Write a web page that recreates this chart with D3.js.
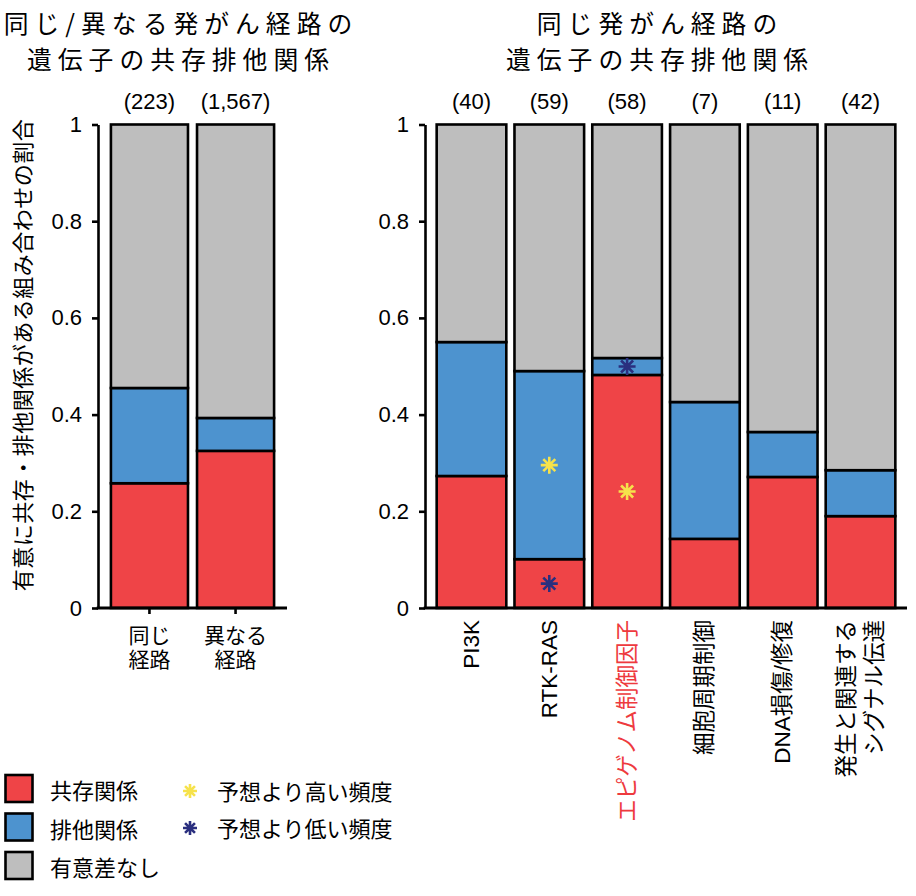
<!DOCTYPE html>
<html><head><meta charset="utf-8">
<script src="https://cdn.jsdelivr.net/npm/d3@7"></script>
<style>
html,body{margin:0;padding:0;background:#fff;}
svg text{font-family:"Liberation Sans","Noto Sans CJK JP",Arial,sans-serif;fill:#000;}
</style></head>
<body><svg id="chart" width="916" height="896"></svg>
<script>
// ---- data ----
const leftCats = [["同じ","経路"],["異なる","経路"]];
const leftCounts = ["(223)","(1,567)"];
const leftCo = [0.258, 0.325];
const leftEx = [0.197, 0.068];

const rightCats = [["PI3K"],["RTK-RAS"],["エピゲノム制御因子"],["細胞周期制御"],["DNA損傷/修復"],["発生と関連する","シグナル伝達"]];
const rightCounts = ["(40)","(59)","(58)","(7)","(11)","(42)"];
const rightCo = [0.273, 0.101, 0.482, 0.143, 0.271, 0.190];
const rightEx = [0.277, 0.389, 0.035, 0.283, 0.093, 0.095];
const rightHighlight = [false,false,true,false,false,false];

// stars: category index, segment ("co"/"ex"), type ("high"/"low")
const starCat = [1, 1, 2, 2];
const starSeg = ["ex", "co", "co", "ex"];
const starType = ["high", "low", "high", "low"];

const yTicks = [0, 0.2, 0.4, 0.6, 0.8, 1];
const legendBoxes = ["共存関係","排他関係","有意差なし"];
const legendStars = ["予想より高い頻度","予想より低い頻度"];

const colors = {co:"#EF4447", ex:"#4D93CF", ns:"#BEBEBE"};
const starColors = {high:"#F6E24B", low:"#2A2F7F"};

const svg = d3.select("#chart");
const y = d3.scaleLinear().domain([0,1]).range([608,124.5]);

function starPath(g, cx, cy, r, color){
  const p = d3.path();
  for (let k=0;k<4;k++){
    const a = k*Math.PI/4;
    p.moveTo(cx - r*Math.cos(a), cy - r*Math.sin(a));
    p.lineTo(cx + r*Math.cos(a), cy + r*Math.sin(a));
  }
  g.append("path").attr("d", p.toString()).attr("stroke", color)
    .attr("stroke-width", 2.6).attr("fill","none").attr("stroke-linecap","butt");
}

function panel(opts){
  const {cats, counts, co, ex, x0, x1, ticksOnX, labelMode, highlight} = opts;
  const g = svg.append("g");
  const x = d3.scaleBand().domain(d3.range(cats.length)).range([x0,x1])
    .paddingInner(0.105).paddingOuter(0.15);
  const data = cats.map((c,i)=>({i, co:co[i], ex:ex[i], ns:1-co[i]-ex[i]}));
  data.forEach(d=>{
    const segs = [
      {k:"co", a:0, b:d.co},
      {k:"ex", a:d.co, b:d.co+d.ex},
      {k:"ns", a:d.co+d.ex, b:1}
    ];
    g.selectAll(null).data(segs).enter().append("rect")
      .attr("x", x(d.i)).attr("width", x.bandwidth())
      .attr("y", s=>y(s.b)).attr("height", s=>y(s.a)-y(s.b))
      .attr("fill", s=>colors[s.k]).attr("stroke","#000").attr("stroke-width",2.6);
  });
  const ya = g.append("g").attr("transform",`translate(${x0},0)`)
    .call(d3.axisLeft(y).tickValues(yTicks).tickFormat(d3.format("~g"))
      .tickSize(6).tickSizeOuter(0).tickPadding(10));
  ya.select(".domain").attr("stroke","#000").attr("stroke-width",2.6);
  ya.selectAll(".tick line").attr("stroke","#000").attr("stroke-width",2.6);
  ya.selectAll(".tick text").attr("font-size",22).attr("font-family","Liberation Sans, Arial, sans-serif");
  const xa = g.append("g").attr("transform",`translate(0,${y(0)})`)
    .call(d3.axisBottom(x).tickSize(ticksOnX?6:0).tickSizeOuter(0).tickFormat(""));
  xa.select(".domain").attr("stroke","#000").attr("stroke-width",3)
    .attr("d", `M${x0-1.3},0H${x1}`);
  xa.selectAll(".tick line").attr("stroke","#000").attr("stroke-width",2.6);
  g.selectAll(null).data(counts).enter().append("text")
    .attr("x",(d,i)=>x(i)+x.bandwidth()/2).attr("y",109)
    .attr("text-anchor","middle").attr("font-size",22).text(d=>d);
  cats.forEach((lines,i)=>{
    const cx = x(i)+x.bandwidth()/2;
    if (labelMode==="horizontal"){
      lines.forEach((t,j)=>{
        g.append("text").attr("x",cx).attr("y",643+j*24).attr("text-anchor","middle")
          .attr("font-size",21).text(t);
      });
    } else {
      const n = lines.length;
      lines.forEach((t,j)=>{
        const off = (j-(n-1)/2)*28;
        g.append("text")
          .attr("transform",`translate(${cx+off},620) rotate(-90)`)
          .attr("text-anchor","end").attr("dominant-baseline","central")
          .attr("font-size",22.5)
          .style("fill", highlight && highlight[i] ? "#EE3A3E" : "#000")
          .text(t);
      });
    }
  });
  return {g, x, data};
}

const L = panel({cats:leftCats, counts:leftCounts, co:leftCo, ex:leftEx, x0:98, x1:287, ticksOnX:true, labelMode:"horizontal"});
const R = panel({cats:rightCats, counts:rightCounts, co:rightCo, ex:rightEx, x0:425, x1:907, ticksOnX:false, labelMode:"rotated", highlight:rightHighlight});

starCat.forEach((ci,k)=>{
  const d = R.data[ci];
  const a = starSeg[k]==="co" ? 0 : d.co;
  const b = starSeg[k]==="co" ? d.co : d.co+d.ex;
  const cx = R.x(ci)+R.x.bandwidth()/2;
  const cy = y((a+b)/2);
  starPath(svg, cx, cy, 8.5, starColors[starType[k]]);
});

function title(lines, cx){
  lines.forEach((s,j)=>{
    svg.append("text").attr("x",cx+3).attr("y",33+j*36).attr("text-anchor","middle")
      .attr("font-size",24.8).attr("letter-spacing",6)
      .style("font-family","'Noto Sans CJK JP','Liberation Sans',sans-serif").text(s);
  });
}
title(["同じ/異なる発がん経路の","遺伝子の共存排他関係"], 178);
title(["同じ発がん経路の","遺伝子の共存排他関係"], 657);

svg.append("text").attr("transform","translate(21,355) rotate(-90)")
  .attr("text-anchor","middle").attr("dominant-baseline","central")
  .attr("font-size",22).attr("letter-spacing",0.5)
  .style("font-family","'Noto Sans CJK JP',sans-serif")
  .text("有意に共存・排他関係がある組み合わせの割合");

const lg = svg.append("g");
const boxKeys = ["co","ex","ns"];
legendBoxes.forEach((t,i)=>{
  const yy = 775 + i*38.5;
  lg.append("rect").attr("x",5.5).attr("y",yy).attr("width",27).attr("height",27)
    .attr("fill",colors[boxKeys[i]]).attr("stroke","#000").attr("stroke-width",2.6);
  lg.append("text").attr("x",50).attr("y",yy+14).attr("dominant-baseline","central")
    .attr("font-size",22).style("font-family","'Noto Sans CJK JP',sans-serif").text(t);
});
const starKeys = ["high","low"];
legendStars.forEach((t,i)=>{
  const yy = 791 + i*37;
  starPath(lg, 190, yy, 7, starColors[starKeys[i]]);
  lg.append("text").attr("x",217).attr("y",yy-1).attr("dominant-baseline","central")
    .attr("font-size",22).style("font-family","'Noto Sans CJK JP',sans-serif").text(t);
});
</script></body></html>
